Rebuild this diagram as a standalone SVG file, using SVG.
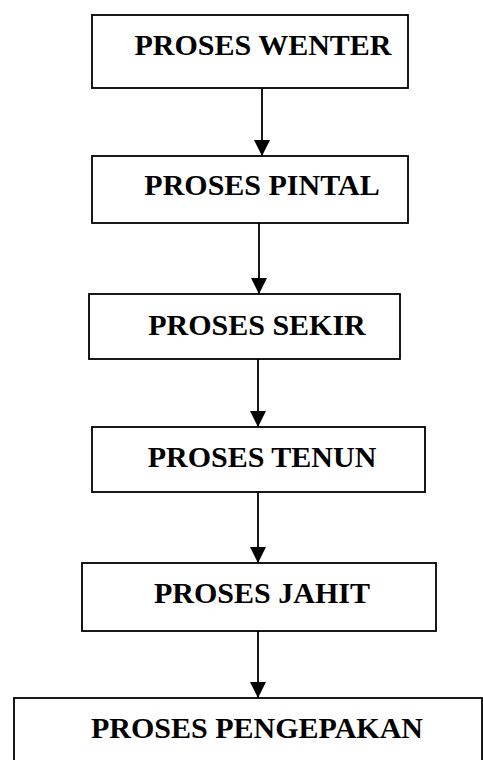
<svg xmlns="http://www.w3.org/2000/svg" width="483" height="760" viewBox="0 0 483 760">
<style>
.box{fill:#fff;stroke:#000;stroke-width:1.8}
.lbl{font-family:"Liberation Serif","Times New Roman",serif;font-weight:bold;font-size:30px;fill:#000;text-anchor:middle}
.con{stroke:#000;stroke-width:1.8;fill:none;marker-end:url(#ah)}
</style>
<defs>
<marker id="ah" markerUnits="userSpaceOnUse" markerWidth="16" markerHeight="16" refX="16" refY="8" orient="auto" viewBox="0 0 16 16">
<path d="M0,0 L16,8 L0,16 Z" fill="#000"/>
</marker>
</defs>
<rect width="483" height="760" fill="#fff"/>
<g id="connectors">
<line class="con" x1="262" y1="88" x2="262" y2="156"/>
<line class="con" x1="259" y1="223" x2="259" y2="294"/>
<line class="con" x1="258" y1="359" x2="258" y2="427"/>
<line class="con" x1="258" y1="492" x2="258" y2="563"/>
<line class="con" x1="258" y1="631" x2="258" y2="698"/>
</g>
<g id="n1"><rect class="box" x="92" y="15" width="316" height="73"/><text class="lbl" x="263" y="55">PROSES WENTER</text></g>
<g id="n2"><rect class="box" x="92" y="156" width="316" height="67"/><text class="lbl" x="262" y="195">PROSES PINTAL</text></g>
<g id="n3"><rect class="box" x="89" y="294" width="311" height="65"/><text class="lbl" x="257" y="335">PROSES SEKIR</text></g>
<g id="n4"><rect class="box" x="92" y="427" width="333" height="65"/><text class="lbl" x="262" y="467">PROSES TENUN</text></g>
<g id="n5"><rect class="box" x="82" y="563" width="354" height="68"/><text class="lbl" x="262" y="603">PROSES JAHIT</text></g>
<g id="n6"><rect class="box" x="14" y="698" width="468" height="80"/><text class="lbl" x="257" y="738">PROSES PENGEPAKAN</text></g>
</svg>
